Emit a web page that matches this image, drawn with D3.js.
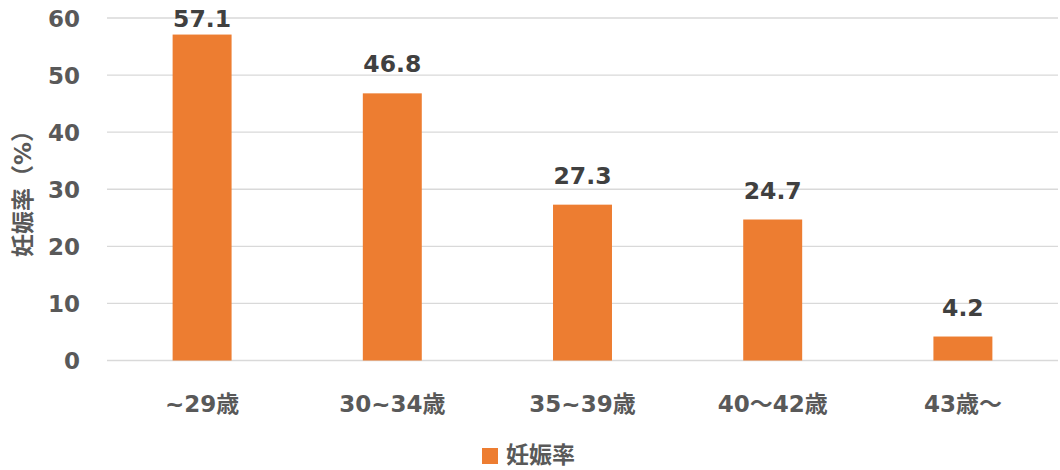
<!DOCTYPE html>
<html><head><meta charset="utf-8">
<script src="https://cdn.jsdelivr.net/npm/d3@7/dist/d3.min.js"></script>
<style>
body{margin:0;background:#fff;}
text{font-family:"DejaVu Sans","Noto Sans CJK JP",sans-serif;font-weight:bold;}
</style></head>
<body><svg id="c" width="1060" height="470"></svg>
<script>
const categories = ["~29歳","30~34歳","35~39歳","40～42歳","43歳～"];
const values = [57.1, 46.8, 27.3, 24.7, 4.2];
const yTicks = [0,10,20,30,40,50,60];
const seriesName = "妊娠率";
const yTitle = "妊娠率（%）";

const svg = d3.select("#c");
const x = d3.scaleBand().domain(categories).range([107,1058]).paddingInner(0.69).paddingOuter(0.345);
const y = d3.scaleLinear().domain([0,60]).range([360.5,18]);
const orange = "#ED7D31";

svg.append("g").selectAll("line").data(yTicks).join("line")
  .attr("x1",107).attr("x2",1058).attr("y1",d=>y(d)).attr("y2",d=>y(d))
  .attr("stroke","#D9D9D9").attr("stroke-width",1.3);

const yAxis = svg.append("g").attr("transform","translate(80,0)")
  .call(d3.axisLeft(y).tickValues(yTicks).tickSize(0).tickPadding(0));
yAxis.select(".domain").remove();
yAxis.selectAll("text").attr("font-size",23).attr("fill","#595959").attr("dy","0.36em")
  .style("font-family","'DejaVu Sans',sans-serif").style("font-weight","bold");

svg.append("g").selectAll("rect").data(values).join("rect")
  .attr("x",(d,i)=>x(categories[i])).attr("width",x.bandwidth())
  .attr("y",d=>y(d)).attr("height",d=>y(0)-y(d)).attr("fill",orange);

svg.append("g").selectAll("text").data(values).join("text")
  .attr("x",(d,i)=>x(categories[i])+x.bandwidth()/2).attr("y",d=>Math.max(27, y(d)-21))
  .attr("text-anchor","middle").attr("font-size",23.5).attr("fill","#404040")
  .text(d=>d.toFixed(1));

const xAxis = svg.append("g").attr("transform","translate(0,361)")
  .call(d3.axisBottom(x).tickSize(0).tickPadding(0));
xAxis.select(".domain").remove();
xAxis.selectAll("text").attr("dy",null).attr("y",51).attr("font-size",23).attr("fill","#595959")
  .style("font-family","'DejaVu Sans','Noto Sans CJK JP',sans-serif").style("font-weight","bold");

svg.append("text").attr("transform","translate(31,188) rotate(-90)")
  .attr("text-anchor","middle").attr("font-size",23).attr("fill","#595959").text(yTitle);

svg.append("rect").attr("x",482).attr("y",448).attr("width",16).attr("height",16).attr("fill",orange);
svg.append("text").attr("x",506).attr("y",463).attr("font-size",23).attr("fill","#595959").text(seriesName);
</script></body></html>
